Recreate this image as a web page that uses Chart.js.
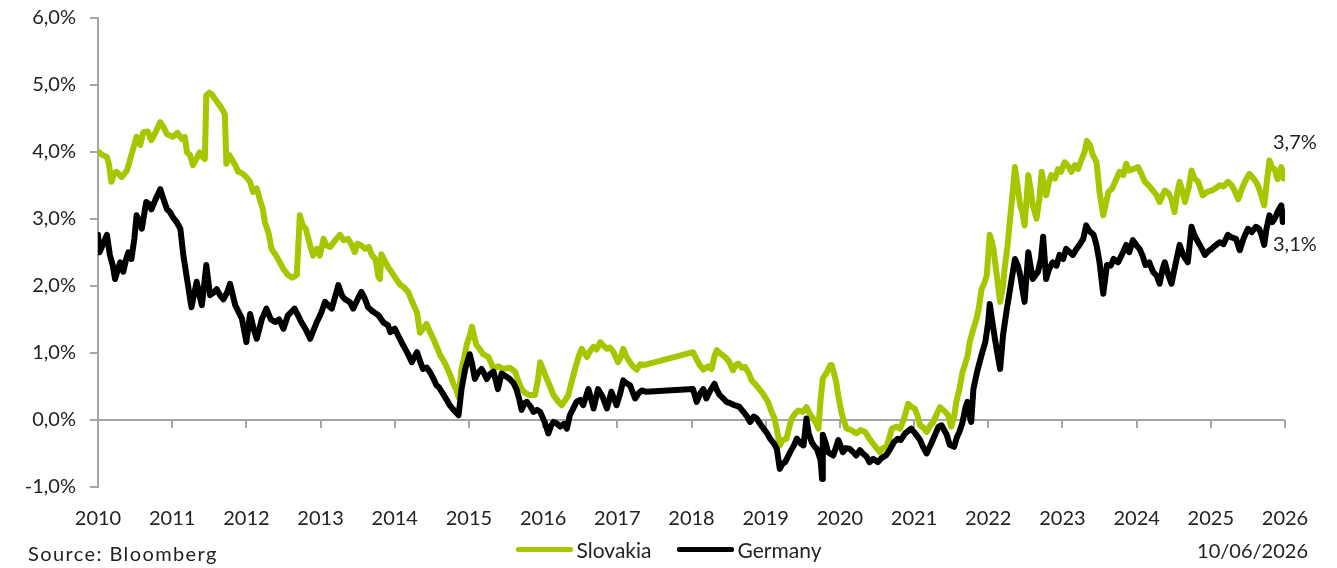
<!DOCTYPE html>
<html>
<head>
<meta charset="utf-8">
<script src="https://cdn.jsdelivr.net/npm/chart.js@4.4.1/dist/chart.umd.min.js"></script>
<style>
  html, body { margin: 0; padding: 0; background: #fff; }
  #wrap { position: relative; width: 1337px; height: 568px; }
  .note { position: absolute; font-family: Lato, sans-serif; font-size: 20px; color: #222; white-space: nowrap; }
  #source { left: 28px; top: 541px; letter-spacing: 1.4px; }
  #stamp { right: 29px; top: 538px; }
  #legend { position: absolute; left: 0; top: 537px; width: 1337px; height: 24px; display: flex;
            justify-content: center; align-items: center; gap: 25px;
            font-family: Lato, sans-serif; font-size: 21px; color: #222; }
  #legend .item { display: flex; align-items: center; gap: 4px; }
  #legend .swatch { width: 57px; height: 5px; border-radius: 2px; }
</style>
</head>
<body>
<div id="wrap">
  <canvas id="yields" width="1337" height="568"></canvas>
  <div id="legend"></div>
  <div class="note" id="source">Source: Bloomberg</div>
  <div class="note" id="stamp">10/06/2026</div>
</div>
<script>
// 10y government bond yields, % (x = decimal year)
const skYears = [
  2010.00, 2010.06, 2010.12, 2010.15, 2010.18, 2010.22, 2010.25, 2010.32, 2010.39, 2010.45,
  2010.52, 2010.57, 2010.61, 2010.67, 2010.72, 2010.78, 2010.84, 2010.89, 2010.93, 2011.01,
  2011.07, 2011.13, 2011.17, 2011.20, 2011.24, 2011.28, 2011.33, 2011.37, 2011.41, 2011.44,
  2011.46, 2011.50, 2011.53, 2011.58, 2011.64, 2011.68, 2011.71, 2011.73, 2011.77, 2011.80,
  2011.85, 2011.89, 2011.94, 2012.00, 2012.05, 2012.09, 2012.14, 2012.18, 2012.22, 2012.25,
  2012.30, 2012.34, 2012.40, 2012.45, 2012.50, 2012.56, 2012.62, 2012.68, 2012.72, 2012.76,
  2012.80, 2012.86, 2012.90, 2012.95, 2012.99, 2013.04, 2013.08, 2013.13, 2013.20, 2013.26,
  2013.31, 2013.37, 2013.42, 2013.46, 2013.50, 2013.55, 2013.60, 2013.65, 2013.69, 2013.74,
  2013.78, 2013.80, 2013.82, 2013.86, 2013.91, 2013.96, 2014.02, 2014.07, 2014.12, 2014.18,
  2014.24, 2014.30, 2014.34, 2014.38, 2014.43, 2014.48, 2014.52, 2014.57, 2014.61, 2014.66,
  2014.70, 2014.75, 2014.79, 2014.83, 2014.86, 2014.90, 2014.94, 2014.97, 2015.01, 2015.04,
  2015.07, 2015.10, 2015.15, 2015.19, 2015.26, 2015.30, 2015.33, 2015.40, 2015.46, 2015.55,
  2015.62, 2015.66, 2015.71, 2015.76, 2015.82, 2015.89, 2015.93, 2015.96, 2016.00, 2016.05,
  2016.10, 2016.14, 2016.20, 2016.25, 2016.30, 2016.34, 2016.38, 2016.43, 2016.48, 2016.52,
  2016.59, 2016.64, 2016.68, 2016.72, 2016.77, 2016.82, 2016.86, 2016.90, 2016.95, 2017.01,
  2017.05, 2017.08, 2017.12, 2017.17, 2017.21, 2017.26, 2017.31, 2017.37, 2018.02, 2018.07,
  2018.11, 2018.16, 2018.22, 2018.27, 2018.31, 2018.34, 2018.40, 2018.45, 2018.50, 2018.56,
  2018.60, 2018.63, 2018.68, 2018.72, 2018.77, 2018.81, 2018.87, 2018.92, 2018.97, 2019.03,
  2019.08, 2019.12, 2019.16, 2019.19, 2019.23, 2019.28, 2019.32, 2019.35, 2019.40, 2019.44,
  2019.50, 2019.55, 2019.60, 2019.64, 2019.68, 2019.71, 2019.74, 2019.77, 2019.83, 2019.87,
  2019.89, 2019.92, 2019.95, 2019.98, 2020.02, 2020.05, 2020.09, 2020.15, 2020.22, 2020.28,
  2020.34, 2020.38, 2020.43, 2020.48, 2020.54, 2020.58, 2020.63, 2020.67, 2020.70, 2020.76,
  2020.81, 2020.86, 2020.92, 2020.96, 2021.01, 2021.05, 2021.08, 2021.13, 2021.17, 2021.22,
  2021.26, 2021.31, 2021.35, 2021.39, 2021.42, 2021.46, 2021.50, 2021.54, 2021.57, 2021.61,
  2021.65, 2021.69, 2021.72, 2021.75, 2021.80, 2021.84, 2021.87, 2021.91, 2021.95, 2021.98,
  2022.02, 2022.05, 2022.07, 2022.11, 2022.16, 2022.20, 2022.22, 2022.26, 2022.29, 2022.33,
  2022.36, 2022.40, 2022.43, 2022.46, 2022.49, 2022.54, 2022.57, 2022.60, 2022.65, 2022.69,
  2022.72, 2022.75, 2022.78, 2022.82, 2022.85, 2022.90, 2022.94, 2022.98, 2023.03, 2023.08,
  2023.12, 2023.17, 2023.21, 2023.26, 2023.30, 2023.33, 2023.37, 2023.41, 2023.46, 2023.50,
  2023.55, 2023.58, 2023.62, 2023.67, 2023.71, 2023.77, 2023.82, 2023.86, 2023.90, 2023.95,
  2024.02, 2024.06, 2024.11, 2024.16, 2024.22, 2024.27, 2024.31, 2024.35, 2024.38, 2024.43,
  2024.47, 2024.51, 2024.55, 2024.58, 2024.62, 2024.65, 2024.70, 2024.74, 2024.78, 2024.83,
  2024.89, 2024.95, 2025.01, 2025.06, 2025.12, 2025.17, 2025.23, 2025.28, 2025.32, 2025.37,
  2025.42, 2025.46, 2025.52, 2025.56, 2025.61, 2025.65, 2025.68, 2025.72, 2025.75, 2025.79,
  2025.83, 2025.86, 2025.90, 2025.93, 2025.95, 2025.98, 2026.00
];
const skYields = [
  4.00, 3.95, 3.92, 3.80, 3.55, 3.68, 3.70, 3.62, 3.72, 3.95,
  4.22, 4.10, 4.29, 4.30, 4.17, 4.30, 4.44, 4.35, 4.26, 4.22,
  4.28, 4.19, 4.22, 3.99, 3.95, 3.80, 3.90, 3.99, 3.92, 3.89,
  4.84, 4.88, 4.86, 4.78, 4.69, 4.62, 4.55, 3.82, 3.95, 3.89,
  3.80, 3.70, 3.68, 3.62, 3.55, 3.40, 3.45, 3.29, 3.15, 2.95,
  2.78, 2.55, 2.45, 2.35, 2.25, 2.16, 2.12, 2.16, 3.05, 2.90,
  2.85, 2.60, 2.45, 2.55, 2.45, 2.70, 2.60, 2.58, 2.68, 2.76,
  2.68, 2.70, 2.61, 2.50, 2.63, 2.60, 2.55, 2.58, 2.46, 2.40,
  2.13, 2.10, 2.47, 2.38, 2.28, 2.20, 2.10, 2.02, 1.98, 1.91,
  1.75, 1.60, 1.30, 1.36, 1.43, 1.30, 1.21, 1.08, 0.97, 0.88,
  0.79, 0.66, 0.54, 0.45, 0.34, 0.76, 0.95, 1.12, 1.25, 1.39,
  1.25, 1.12, 1.05, 0.98, 0.94, 0.85, 0.76, 0.80, 0.76, 0.78,
  0.72, 0.60, 0.46, 0.40, 0.37, 0.37, 0.60, 0.86, 0.75, 0.61,
  0.48, 0.37, 0.28, 0.22, 0.30, 0.37, 0.55, 0.76, 0.95, 1.06,
  0.94, 1.04, 1.09, 1.05, 1.16, 1.10, 1.06, 1.08, 1.01, 0.86,
  0.95, 1.06, 0.95, 0.86, 0.80, 0.75, 0.83, 0.82, 1.01, 0.90,
  0.82, 0.75, 0.80, 0.76, 0.95, 1.04, 0.98, 0.94, 0.88, 0.74,
  0.82, 0.84, 0.78, 0.79, 0.70, 0.59, 0.52, 0.45, 0.38, 0.27,
  0.12, 0.02, -0.20, -0.38, -0.30, -0.28, -0.10, 0.02, 0.10, 0.14,
  0.12, 0.19, 0.08, 0.02, -0.05, -0.13, 0.30, 0.62, 0.72, 0.82,
  0.82, 0.70, 0.57, 0.35, 0.12, 0.00, -0.13, -0.15, -0.20, -0.15,
  -0.18, -0.25, -0.33, -0.40, -0.48, -0.42, -0.40, -0.25, -0.13, -0.10,
  -0.13, 0.00, 0.24, 0.20, 0.17, 0.05, -0.08, -0.12, -0.18, -0.08,
  -0.03, 0.10, 0.19, 0.15, 0.12, 0.07, -0.10, 0.05, 0.27, 0.45,
  0.70, 0.84, 0.95, 1.16, 1.36, 1.50, 1.65, 1.95, 2.05, 2.16,
  2.76, 2.65, 2.55, 2.20, 1.76, 2.00, 2.25, 2.60, 2.95, 3.40,
  3.77, 3.45, 3.20, 3.10, 2.90, 3.65, 3.45, 3.20, 3.00, 3.30,
  3.70, 3.50, 3.35, 3.55, 3.65, 3.60, 3.74, 3.70, 3.84, 3.78,
  3.70, 3.80, 3.74, 3.89, 4.00, 4.16, 4.10, 3.95, 3.84, 3.40,
  3.05, 3.20, 3.40, 3.45, 3.55, 3.70, 3.65, 3.82, 3.72, 3.74,
  3.77, 3.68, 3.55, 3.50, 3.42, 3.35, 3.25, 3.35, 3.42, 3.38,
  3.29, 3.10, 3.40, 3.55, 3.40, 3.25, 3.45, 3.72, 3.60, 3.55,
  3.35, 3.40, 3.42, 3.45, 3.50, 3.48, 3.55, 3.50, 3.42, 3.29,
  3.45, 3.55, 3.67, 3.62, 3.55, 3.45, 3.35, 3.20, 3.50, 3.87,
  3.75, 3.74, 3.59, 3.70, 3.77, 3.60, 3.70
];

const deYears = [
  2010.00, 2010.02, 2010.06, 2010.12, 2010.16, 2010.20, 2010.23, 2010.27, 2010.30, 2010.34,
  2010.38, 2010.41, 2010.45, 2010.49, 2010.52, 2010.56, 2010.59, 2010.65, 2010.69, 2010.72,
  2010.78, 2010.84, 2010.88, 2010.93, 2010.97, 2011.01, 2011.06, 2011.11, 2011.15, 2011.20,
  2011.26, 2011.30, 2011.33, 2011.37, 2011.40, 2011.46, 2011.51, 2011.56, 2011.60, 2011.65,
  2011.69, 2011.74, 2011.78, 2011.85, 2011.90, 2011.94, 2012.00, 2012.05, 2012.10, 2012.14,
  2012.21, 2012.27, 2012.33, 2012.39, 2012.44, 2012.50, 2012.56, 2012.65, 2012.70, 2012.74,
  2012.80, 2012.86, 2012.91, 2012.95, 2013.01, 2013.06, 2013.11, 2013.15, 2013.20, 2013.24,
  2013.29, 2013.33, 2013.40, 2013.44, 2013.50, 2013.55, 2013.60, 2013.64, 2013.70, 2013.78,
  2013.85, 2013.91, 2013.94, 2014.00, 2014.05, 2014.11, 2014.17, 2014.23, 2014.30, 2014.34,
  2014.38, 2014.43, 2014.47, 2014.52, 2014.56, 2014.60, 2014.65, 2014.70, 2014.74, 2014.80,
  2014.86, 2014.90, 2014.95, 2015.01, 2015.04, 2015.08, 2015.12, 2015.17, 2015.21, 2015.24,
  2015.28, 2015.33, 2015.36, 2015.39, 2015.44, 2015.50, 2015.55, 2015.60, 2015.64, 2015.68,
  2015.71, 2015.75, 2015.78, 2015.83, 2015.87, 2015.92, 2015.96, 2016.02, 2016.07, 2016.11,
  2016.14, 2016.18, 2016.23, 2016.28, 2016.32, 2016.36, 2016.41, 2016.45, 2016.50, 2016.54,
  2016.61, 2016.65, 2016.68, 2016.74, 2016.80, 2016.86, 2016.92, 2016.99, 2017.04, 2017.08,
  2017.12, 2017.17, 2017.24, 2017.29, 2017.33, 2017.39, 2018.02, 2018.07, 2018.12, 2018.16,
  2018.20, 2018.26, 2018.31, 2018.34, 2018.38, 2018.43, 2018.47, 2018.52, 2018.58, 2018.64,
  2018.70, 2018.75, 2018.79, 2018.84, 2018.88, 2018.92, 2018.97, 2019.02, 2019.06, 2019.11,
  2019.15, 2019.19, 2019.23, 2019.26, 2019.30, 2019.33, 2019.38, 2019.42, 2019.47, 2019.51,
  2019.55, 2019.58, 2019.62, 2019.66, 2019.69, 2019.74, 2019.76, 2019.77, 2019.81, 2019.84,
  2019.91, 2019.95, 2019.98, 2020.04, 2020.08, 2020.13, 2020.18, 2020.22, 2020.27, 2020.31,
  2020.36, 2020.40, 2020.45, 2020.51, 2020.56, 2020.62, 2020.67, 2020.73, 2020.78, 2020.82,
  2020.88, 2020.96, 2021.03, 2021.08, 2021.12, 2021.17, 2021.22, 2021.26, 2021.33, 2021.37,
  2021.44, 2021.48, 2021.54, 2021.58, 2021.61, 2021.65, 2021.69, 2021.72, 2021.75, 2021.77,
  2021.80, 2021.85, 2021.91, 2021.96, 2022.00, 2022.02, 2022.05, 2022.09, 2022.13, 2022.16,
  2022.20, 2022.25, 2022.28, 2022.31, 2022.36, 2022.40, 2022.43, 2022.46, 2022.49, 2022.54,
  2022.57, 2022.60, 2022.67, 2022.71, 2022.74, 2022.78, 2022.82, 2022.87, 2022.92, 2022.96,
  2023.01, 2023.05, 2023.10, 2023.14, 2023.19, 2023.23, 2023.28, 2023.32, 2023.36, 2023.42,
  2023.46, 2023.50, 2023.55, 2023.60, 2023.65, 2023.69, 2023.75, 2023.80, 2023.86, 2023.90,
  2023.95, 2024.00, 2024.04, 2024.08, 2024.12, 2024.17, 2024.22, 2024.27, 2024.31, 2024.35,
  2024.38, 2024.43, 2024.47, 2024.52, 2024.58, 2024.63, 2024.69, 2024.74, 2024.78, 2024.83,
  2024.88, 2024.92, 2024.97, 2025.01, 2025.06, 2025.12, 2025.17, 2025.23, 2025.28, 2025.34,
  2025.39, 2025.44, 2025.50, 2025.55, 2025.61, 2025.65, 2025.68, 2025.72, 2025.75, 2025.79,
  2025.83, 2025.86, 2025.90, 2025.95, 2025.97, 2026.00
];
const deYields = [
  2.76, 2.50, 2.60, 2.76, 2.46, 2.30, 2.10, 2.25, 2.35, 2.21,
  2.40, 2.50, 2.40, 2.70, 3.05, 2.95, 2.85, 3.25, 3.22, 3.14,
  3.30, 3.44, 3.30, 3.14, 3.10, 3.02, 2.95, 2.85, 2.46, 2.10,
  1.68, 1.90, 2.06, 1.85, 1.71, 2.31, 1.86, 1.90, 1.95, 1.85,
  1.80, 1.90, 2.03, 1.71, 1.60, 1.51, 1.16, 1.58, 1.35, 1.21,
  1.51, 1.66, 1.50, 1.46, 1.50, 1.36, 1.56, 1.66, 1.55, 1.46,
  1.35, 1.21, 1.35, 1.46, 1.60, 1.76, 1.70, 1.66, 1.85, 2.01,
  1.85, 1.80, 1.75, 1.66, 1.80, 1.91, 1.80, 1.68, 1.62, 1.56,
  1.45, 1.41, 1.31, 1.36, 1.25, 1.12, 1.00, 0.86, 1.01, 0.88,
  0.76, 0.78, 0.72, 0.62, 0.52, 0.48, 0.39, 0.30, 0.22, 0.14,
  0.07, 0.46, 0.76, 0.98, 0.85, 0.61, 0.70, 0.76, 0.68, 0.61,
  0.68, 0.72, 0.60, 0.46, 0.69, 0.65, 0.61, 0.55, 0.46, 0.30,
  0.15, 0.25, 0.27, 0.20, 0.12, 0.15, 0.12, -0.03, -0.20, -0.08,
  -0.03, -0.05, -0.10, -0.06, -0.13, 0.07, 0.18, 0.27, 0.30, 0.22,
  0.46, 0.30, 0.17, 0.46, 0.35, 0.17, 0.42, 0.22, 0.40, 0.59,
  0.55, 0.52, 0.32, 0.40, 0.44, 0.42, 0.46, 0.27, 0.40, 0.46,
  0.32, 0.45, 0.54, 0.45, 0.37, 0.32, 0.27, 0.25, 0.22, 0.20,
  0.12, 0.05, -0.03, 0.05, 0.02, -0.05, -0.13, -0.20, -0.28, -0.35,
  -0.43, -0.73, -0.65, -0.63, -0.55, -0.48, -0.38, -0.28, -0.35, -0.38,
  0.02, -0.20, -0.33, -0.40, -0.43, -0.60, -0.88, -0.22, -0.35, -0.48,
  -0.53, -0.40, -0.30, -0.48, -0.42, -0.43, -0.48, -0.53, -0.45, -0.50,
  -0.55, -0.63, -0.58, -0.63, -0.57, -0.53, -0.45, -0.33, -0.28, -0.30,
  -0.20, -0.13, -0.22, -0.30, -0.40, -0.50, -0.38, -0.28, -0.10, -0.08,
  -0.22, -0.37, -0.40, -0.25, -0.18, -0.05, 0.17, 0.27, 0.05, -0.03,
  0.46, 0.72, 0.97, 1.16, 1.46, 1.73, 1.50, 1.21, 0.95, 0.76,
  1.27, 1.65, 1.85, 2.06, 2.40, 2.30, 2.16, 1.95, 1.76, 2.50,
  2.30, 2.10, 2.21, 2.40, 2.73, 2.10, 2.25, 2.35, 2.30, 2.46,
  2.40, 2.55, 2.50, 2.46, 2.55, 2.61, 2.70, 2.90, 2.82, 2.76,
  2.60, 2.35, 1.88, 2.31, 2.30, 2.40, 2.35, 2.46, 2.61, 2.50,
  2.68, 2.60, 2.55, 2.45, 2.31, 2.35, 2.21, 2.15, 2.03, 2.25,
  2.35, 2.15, 2.03, 2.30, 2.61, 2.45, 2.35, 2.88, 2.75, 2.65,
  2.55, 2.46, 2.52, 2.55, 2.60, 2.65, 2.62, 2.76, 2.72, 2.70,
  2.53, 2.70, 2.85, 2.80, 2.88, 2.85, 2.77, 2.61, 2.85, 3.05,
  2.95, 3.00, 3.10, 3.20, 2.95, 3.10
];

const seriesNames = ["Slovakia", "Germany"];
const yearTicks = [2010, 2026];
const yieldTicks = [-1, 6];

const GREEN = "#a6c600";
const INK = "#222222";
const AXIS = "#a6a6a6";
const FONT = "Lato, 'Noto Sans', sans-serif";

const toPoints = (xs, ys) => xs.map((x, i) => ({ x: x, y: ys[i] }));
const pct = v => v.toFixed(1).replace(".", ",") + "%";

// horizontal axis drawn along the 0% level, with a tick at every year
const zeroAxis = {
  id: "zeroAxis",
  beforeDatasetsDraw(chart) {
    const { ctx, chartArea, scales } = chart;
    const y0 = Math.round(scales.y.getPixelForValue(0));
    ctx.save();
    ctx.strokeStyle = AXIS;
    ctx.lineWidth = 2;
    ctx.beginPath();
    ctx.moveTo(chartArea.left, y0);
    ctx.lineTo(chartArea.right, y0);
    for (let yr = yearTicks[0] + 1; yr <= yearTicks[1]; yr++) {
      const x = Math.round(scales.x.getPixelForValue(yr));
      ctx.moveTo(x, y0);
      ctx.lineTo(x, y0 + 8);
    }
    ctx.stroke();
    ctx.restore();
  }
};

// last value of each series written next to the line end
const endLabels = {
  id: "endLabels",
  afterDatasetsDraw(chart) {
    const { ctx } = chart;
    ctx.save();
    ctx.font = "20px " + FONT;
    ctx.fillStyle = INK;
    ctx.textAlign = "left";
    ctx.textBaseline = "middle";
    chart.data.datasets.forEach((ds, i) => {
      const pts = chart.getDatasetMeta(i).data;
      const last = pts[pts.length - 1];
      const value = ds.data[ds.data.length - 1].y;
      const dy = i === 0 ? -29 : 33;
      ctx.fillText(pct(value), last.x - 12, last.y + dy);
    });
    ctx.restore();
  }
};

const chart = new Chart(document.getElementById("yields"), {
  type: "line",
  data: {
    datasets: [
      {
        label: seriesNames[0],
        data: toPoints(skYears, skYields),
        borderColor: GREEN,
        backgroundColor: GREEN,
        borderWidth: 6,
        order: 1
      },
      {
        label: seriesNames[1],
        data: toPoints(deYears, deYields),
        borderColor: "#000000",
        backgroundColor: "#000000",
        borderWidth: 6,
        order: 0
      }
    ]
  },
  options: {
    responsive: false,
    animation: false,
    parsing: false,
    elements: {
      point: { radius: 0 },
      line: { tension: 0, borderJoinStyle: "round", borderCapStyle: "round" }
    },
    layout: { padding: 0 },
    scales: {
      x: {
        type: "linear",
        min: yearTicks[0],
        max: yearTicks[1],
        border: { display: false },
        grid: { display: false, drawTicks: false },
        ticks: {
          stepSize: 1,
          autoSkip: false,
          maxRotation: 0,
          padding: 20,
          color: INK,
          font: { family: FONT, size: 20 },
          callback: v => String(v)
        },
        afterFit: s => { s.height = 81; }
      },
      y: {
        min: yieldTicks[0],
        max: yieldTicks[1],
        border: { display: true, color: AXIS, width: 2 },
        grid: { drawOnChartArea: false, drawTicks: true, tickLength: 8, color: AXIS, lineWidth: 2 },
        ticks: {
          stepSize: 1,
          padding: 14,
          color: INK,
          font: { family: FONT, size: 20 },
          callback: v => pct(v)
        },
        afterFit: s => {
          s.width = 98;
          s.paddingTop = 17.5;
          s.paddingBottom = 0;
        }
      },
      gap: {
        position: "right",
        display: true,
        border: { display: false },
        grid: { display: false },
        ticks: { display: false },
        afterFit: s => {
          s.width = 52;
          s.paddingTop = 0;
          s.paddingBottom = 0;
        }
      }
    },
    plugins: {
      tooltip: { enabled: false },
      legend: { display: false }
    }
  },
  plugins: [zeroAxis, endLabels]
});

// legend entries built from the chart's own datasets
const legendBox = document.getElementById("legend");
chart.data.datasets.forEach(ds => {
  const item = document.createElement("span");
  item.className = "item";
  const swatch = document.createElement("span");
  swatch.className = "swatch";
  swatch.style.background = ds.borderColor;
  const text = document.createElement("span");
  text.textContent = ds.label;
  item.appendChild(swatch);
  item.appendChild(text);
  legendBox.appendChild(item);
});
</script>
</body>
</html>
